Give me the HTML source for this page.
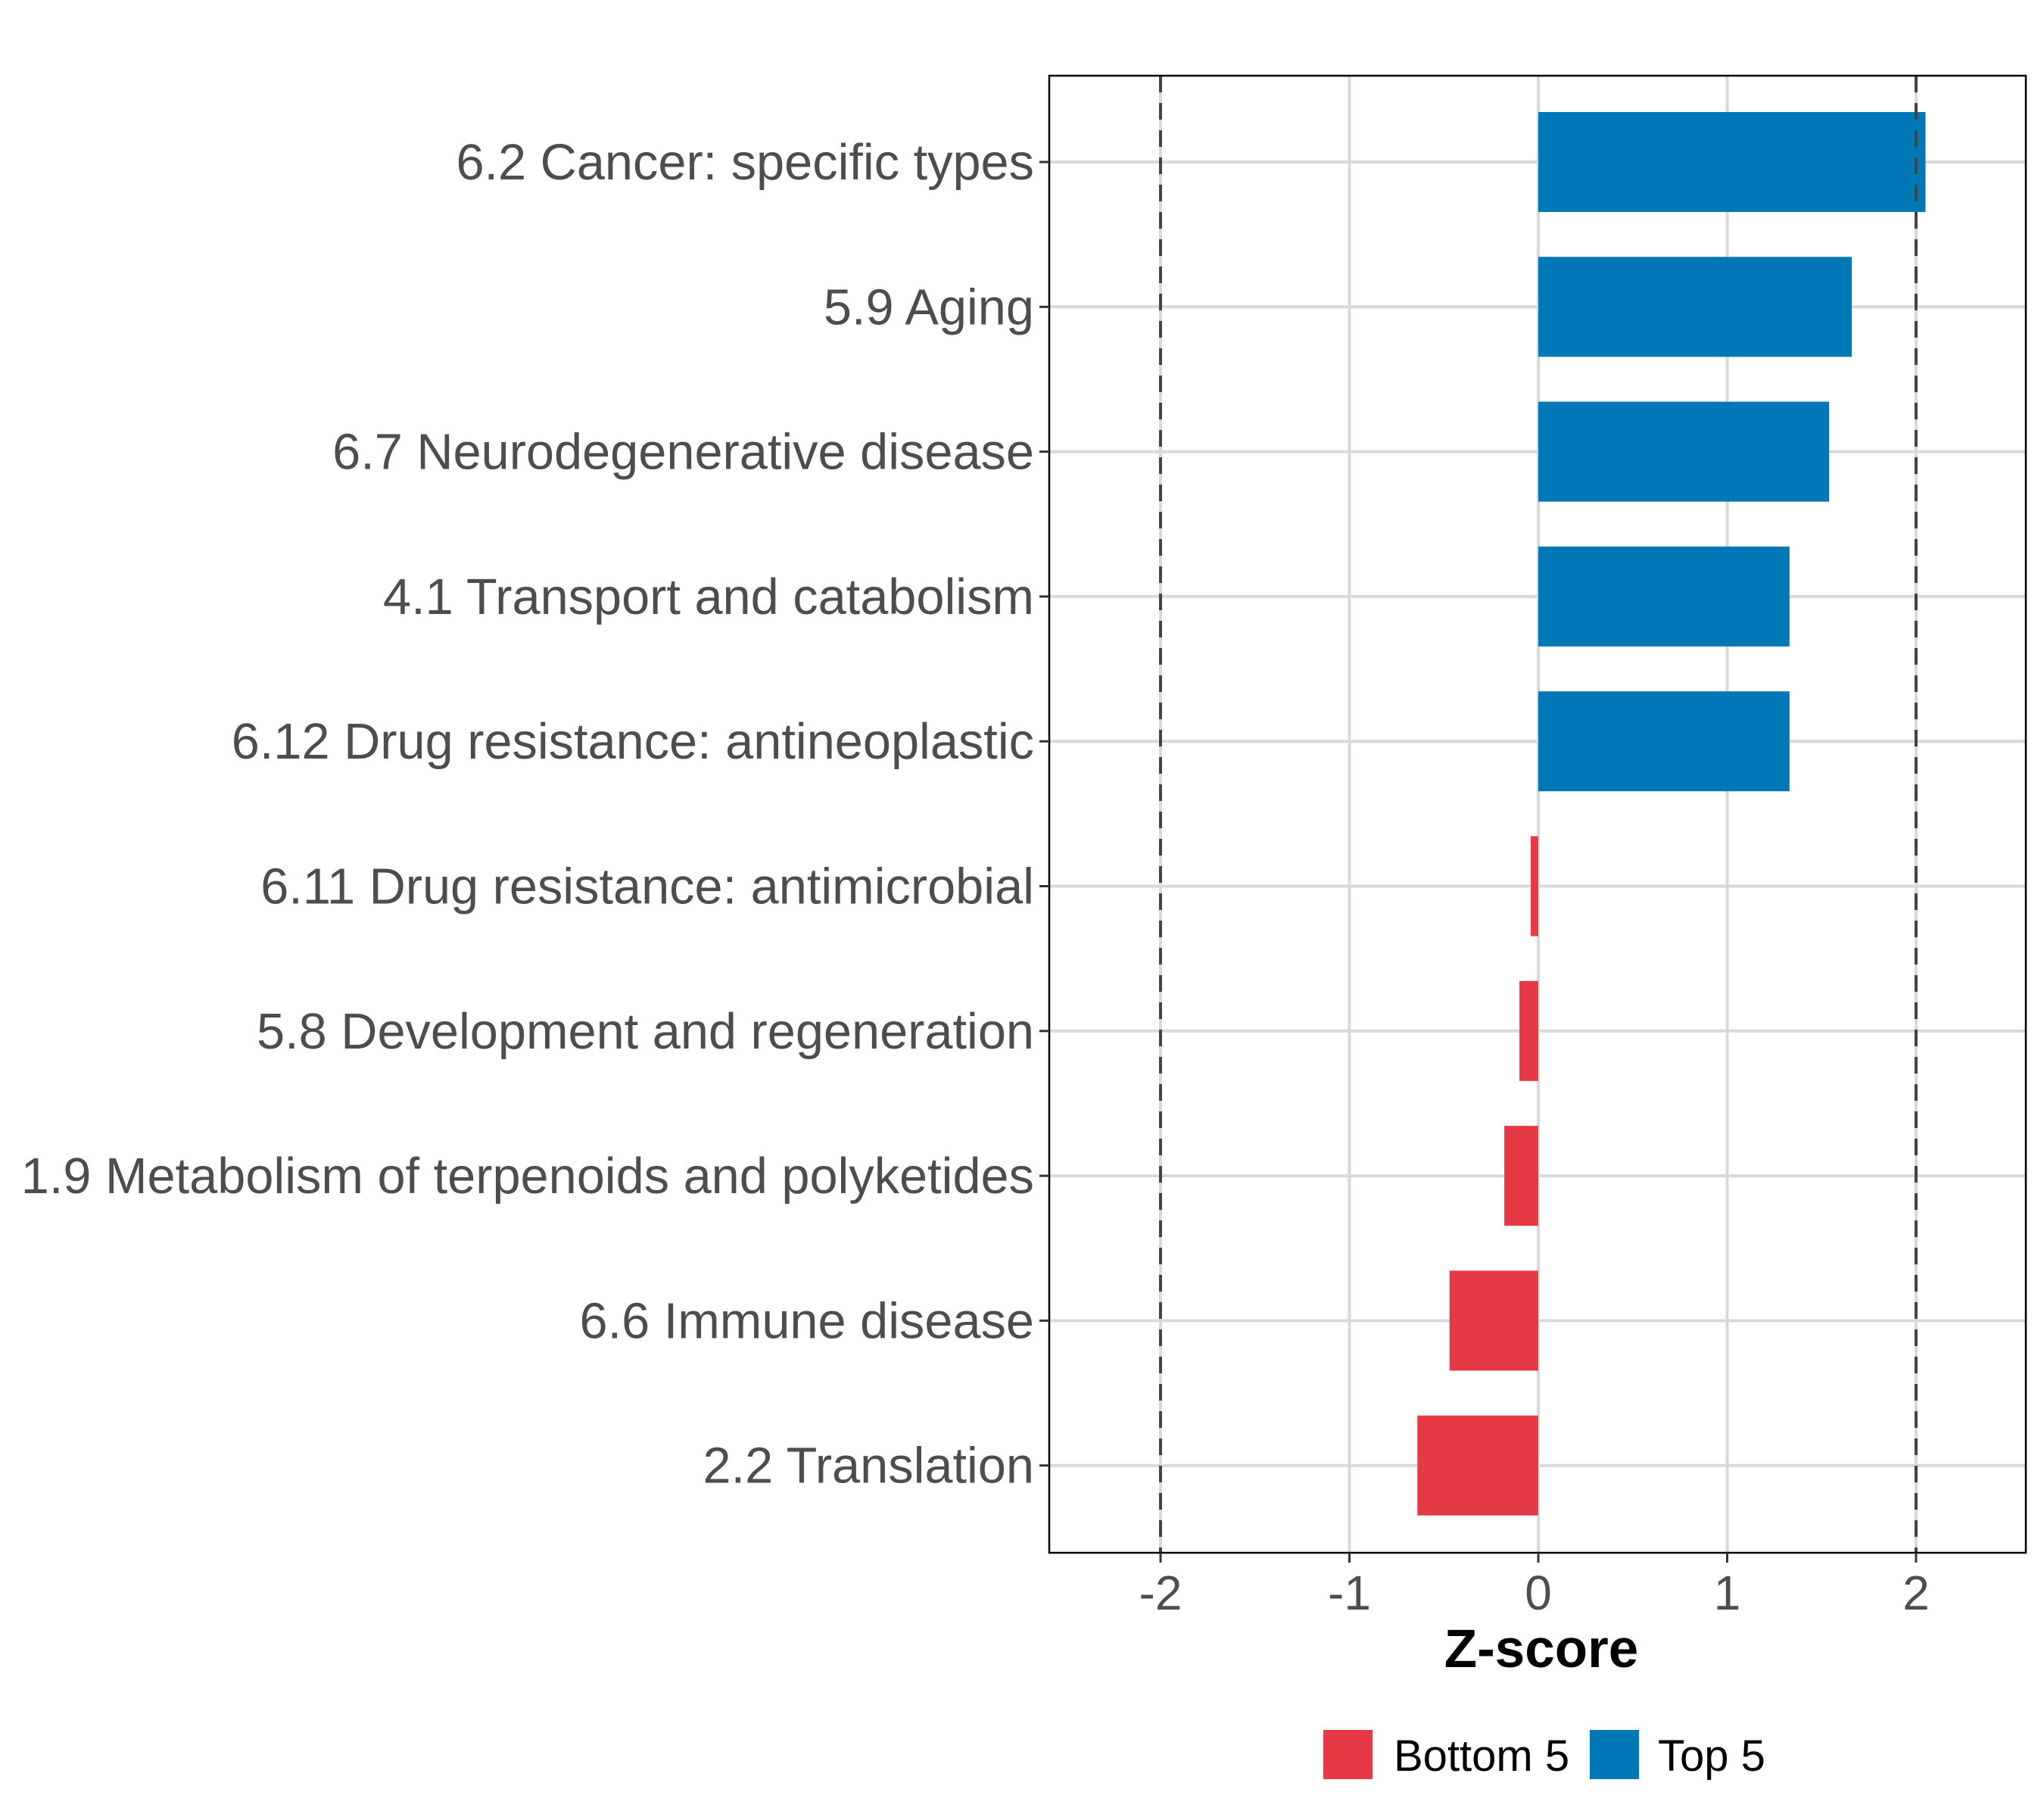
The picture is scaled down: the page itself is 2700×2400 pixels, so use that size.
<!DOCTYPE html>
<html><head><meta charset="utf-8"><style>
html,body{margin:0;padding:0;background:#fff}
svg{display:block}
</style></head><body>
<svg id="chart" width="2700" height="2400" viewBox="0 0 2700 2400" xmlns="http://www.w3.org/2000/svg" font-family="Liberation Sans, Arial, sans-serif"></svg>
<script>
const categories = ["6.2 Cancer: specific types","5.9 Aging","6.7 Neurodegenerative disease","4.1 Transport and catabolism","6.12 Drug resistance: antineoplastic","6.11 Drug resistance: antimicrobial","5.8 Development and regeneration","1.9 Metabolism of terpenoids and polyketides","6.6 Immune disease","2.2 Translation"];
const zscores = [2.05, 1.66, 1.54, 1.33, 1.33, -0.04, -0.10, -0.18, -0.47, -0.64];
const groups = ["Top 5","Top 5","Top 5","Top 5","Top 5","Bottom 5","Bottom 5","Bottom 5","Bottom 5","Bottom 5"];
const xTicks = [-2, -1, 0, 1, 2];
const xTickLabels = ["-2","-1","0","1","2"];
const thresholds = [-2, 2];

const svg = document.getElementById('chart');
const NS = 'http://www.w3.org/2000/svg';
const P = {l:1386, r:2676, t:100, b:2051};
const X0 = 2032, XU = 249.5;
const xs = v => X0 + v*XU;
const rowTop = 214, rowStep = 191.3, barH = 132;
const ys = i => rowTop + i*rowStep;
const colors = {"Top 5":"#0077b6","Bottom 5":"#e63946"};
function mk(tag, attrs, parent){const e=document.createElementNS(NS,tag);for(const k in attrs)e.setAttribute(k,attrs[k]);(parent||svg).appendChild(e);return e;}

xTicks.forEach((t,i)=>{
  const g = mk('line',{x1:xs(t),x2:xs(t),y1:P.t,y2:P.b,stroke:'#d9d9d9','stroke-width':4});
  
  
});
categories.forEach((c,i)=>{
  const g = mk('line',{x1:P.l,x2:P.r,y1:ys(i),y2:ys(i),stroke:'#d9d9d9','stroke-width':4});
  
  
});
zscores.forEach((v,i)=>{
  const x1 = xs(Math.min(0,v)), x2 = xs(Math.max(0,v));
  const r = mk('rect',{x:x1,y:ys(i)-barH/2,width:x2-x1,height:barH,fill:colors[groups[i]]});
  
  
});
thresholds.forEach(t=>{
  const l = mk('line',{x1:xs(t),x2:xs(t),y1:P.t,y2:P.b,stroke:'#444','stroke-width':4,'stroke-dasharray':'22 14'});
  
  
});
const border = mk('rect',{x:P.l,y:P.t,width:P.r-P.l,height:P.b-P.t,fill:'none',stroke:'#000','stroke-width':2.5});


categories.forEach((c,i)=>{
  const tk = mk('line',{x1:P.l-13,x2:P.l,y1:ys(i),y2:ys(i),stroke:'#333','stroke-width':3});
  
  
  const t = mk('text',{x:P.l-20,y:ys(i)+23,'text-anchor':'end','font-size':66.7,fill:'#4d4d4d'});
  t.textContent = c;
  
  
});
xTicks.forEach((v,i)=>{
  const tk = mk('line',{x1:xs(v),x2:xs(v),y1:P.b,y2:P.b+13,stroke:'#333','stroke-width':3});
  
  
  const t = mk('text',{x:xs(v),y:2126,'text-anchor':'middle','font-size':64,fill:'#4d4d4d'});
  t.textContent = xTickLabels[i];
  
  
});
const xt = mk('text',{x:2036,y:2202,'text-anchor':'middle','font-size':71,'font-weight':'bold',fill:'#000'});
xt.textContent='Z-score';


const legend = [["Bottom 5",1748,1841],["Top 5",2100,2190]];
legend.forEach(([lab,kx,tx])=>{
  const k = mk('rect',{x:kx,y:2285,width:65,height:65,fill:colors[lab]});
  
  
  const t = mk('text',{x:tx,y:2339,'font-size':58,fill:'#000'});
  t.textContent = lab;
  
  
});
</script>
</body></html>
